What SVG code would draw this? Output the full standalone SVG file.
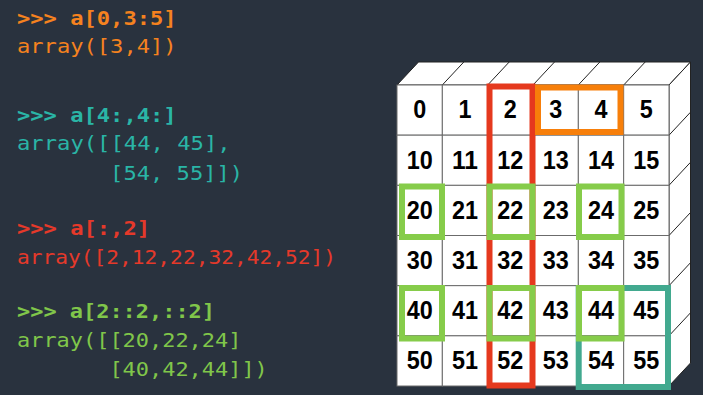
<svg xmlns="http://www.w3.org/2000/svg" width="703" height="395" viewBox="0 0 703 395">
<style>
.code{font-family:"DejaVu Sans Mono","Liberation Mono",monospace;font-size:20px}
.b{font-weight:bold}
.or{fill:#f5821f}.te{fill:#2ab5a6}.rd{fill:#e5392a}.gr{fill:#80c64a}
.cell rect{fill:#fff;stroke:#6b6b6b;stroke-width:1}
.cell text{font-family:"Liberation Sans",Arial,sans-serif;font-weight:bold;font-size:26px;fill:#000;text-anchor:middle}
.face{fill:#fff;stroke:#222;stroke-width:1}
.edge{stroke:#222;stroke-width:1;fill:none}
.hl{fill:none;stroke-width:6}
</style>
<rect width="703" height="395" fill="#29323e"/>
<g id="code">
<text class="code b or" x="17" y="25" textLength="159.6" lengthAdjust="spacingAndGlyphs">&gt;&gt;&gt; a[0,3:5]</text>
<text class="code or" x="17" y="53" textLength="159.6" lengthAdjust="spacingAndGlyphs">array([3,4])</text>
<text class="code b te" x="17" y="121.5" textLength="159.6" lengthAdjust="spacingAndGlyphs">&gt;&gt;&gt; a[4:,4:]</text>
<text class="code te" x="17" y="150" textLength="213.6" lengthAdjust="spacingAndGlyphs" xml:space="preserve">array([[44, 45],</text>
<text class="code te" x="110.1" y="179.5" textLength="133" lengthAdjust="spacingAndGlyphs" xml:space="preserve">[54, 55]])</text>
<text class="code b rd" x="17" y="235" textLength="133" lengthAdjust="spacingAndGlyphs">&gt;&gt;&gt; a[:,2]</text>
<text class="code rd" x="17" y="263.5" textLength="319" lengthAdjust="spacingAndGlyphs">array([2,12,22,32,42,52])</text>
<text class="code b gr" x="17" y="318" textLength="198" lengthAdjust="spacingAndGlyphs">&gt;&gt;&gt; a[2::2,::2]</text>
<text class="code gr" x="17" y="346.5" textLength="224.4" lengthAdjust="spacingAndGlyphs">array([[20,22,24]</text>
<text class="code gr" x="109.4" y="376" textLength="158.4" lengthAdjust="spacingAndGlyphs">[40,42,44]])</text>
</g>
<g id="box3d">
<polygon class="face" points="397,85 669,85 690.5,62 418.5,62"/>
<polygon class="face" points="669,85 690.5,62 690.5,363 669,386"/>
<path class="edge" d="M442.3,85 L463.8,62 M487.7,85 L509.2,62 M533,85 L554.5,62 M578.3,85 L599.8,62 M623.7,85 L645.2,62 M669,135.2 L690.5,112.2 M669,185.3 L690.5,162.3 M669,235.5 L690.5,212.5 M669,285.7 L690.5,262.7 M669,335.8 L690.5,312.8"/>
</g>
<g id="grid">
<g id="c0" class="cell"><rect x="397" y="85" width="45.33" height="50.17"/><text x="419.7" y="118.3" textLength="13" lengthAdjust="spacingAndGlyphs">0</text></g>
<g id="c1" class="cell"><rect x="442.33" y="85" width="45.33" height="50.17"/><text x="465" y="118.3" textLength="13" lengthAdjust="spacingAndGlyphs">1</text></g>
<g id="c2" class="cell"><rect x="487.67" y="85" width="45.33" height="50.17"/><text x="510.3" y="118.3" textLength="13" lengthAdjust="spacingAndGlyphs">2</text></g>
<g id="c3" class="cell"><rect x="533" y="85" width="45.33" height="50.17"/><text x="555.7" y="118.3" textLength="13" lengthAdjust="spacingAndGlyphs">3</text></g>
<g id="c4" class="cell"><rect x="578.33" y="85" width="45.33" height="50.17"/><text x="601" y="118.3" textLength="13" lengthAdjust="spacingAndGlyphs">4</text></g>
<g id="c5" class="cell"><rect x="623.67" y="85" width="45.33" height="50.17"/><text x="646.3" y="118.3" textLength="13" lengthAdjust="spacingAndGlyphs">5</text></g>
<g id="c10" class="cell"><rect x="397" y="135.17" width="45.33" height="50.17"/><text x="419.7" y="168.5" textLength="26" lengthAdjust="spacingAndGlyphs">10</text></g>
<g id="c11" class="cell"><rect x="442.33" y="135.17" width="45.33" height="50.17"/><text x="465" y="168.5" textLength="26" lengthAdjust="spacingAndGlyphs">11</text></g>
<g id="c12" class="cell"><rect x="487.67" y="135.17" width="45.33" height="50.17"/><text x="510.3" y="168.5" textLength="26" lengthAdjust="spacingAndGlyphs">12</text></g>
<g id="c13" class="cell"><rect x="533" y="135.17" width="45.33" height="50.17"/><text x="555.7" y="168.5" textLength="26" lengthAdjust="spacingAndGlyphs">13</text></g>
<g id="c14" class="cell"><rect x="578.33" y="135.17" width="45.33" height="50.17"/><text x="601" y="168.5" textLength="26" lengthAdjust="spacingAndGlyphs">14</text></g>
<g id="c15" class="cell"><rect x="623.67" y="135.17" width="45.33" height="50.17"/><text x="646.3" y="168.5" textLength="26" lengthAdjust="spacingAndGlyphs">15</text></g>
<g id="c20" class="cell"><rect x="397" y="185.33" width="45.33" height="50.17"/><text x="419.7" y="218.6" textLength="26" lengthAdjust="spacingAndGlyphs">20</text></g>
<g id="c21" class="cell"><rect x="442.33" y="185.33" width="45.33" height="50.17"/><text x="465" y="218.6" textLength="26" lengthAdjust="spacingAndGlyphs">21</text></g>
<g id="c22" class="cell"><rect x="487.67" y="185.33" width="45.33" height="50.17"/><text x="510.3" y="218.6" textLength="26" lengthAdjust="spacingAndGlyphs">22</text></g>
<g id="c23" class="cell"><rect x="533" y="185.33" width="45.33" height="50.17"/><text x="555.7" y="218.6" textLength="26" lengthAdjust="spacingAndGlyphs">23</text></g>
<g id="c24" class="cell"><rect x="578.33" y="185.33" width="45.33" height="50.17"/><text x="601" y="218.6" textLength="26" lengthAdjust="spacingAndGlyphs">24</text></g>
<g id="c25" class="cell"><rect x="623.67" y="185.33" width="45.33" height="50.17"/><text x="646.3" y="218.6" textLength="26" lengthAdjust="spacingAndGlyphs">25</text></g>
<g id="c30" class="cell"><rect x="397" y="235.5" width="45.33" height="50.17"/><text x="419.7" y="268.8" textLength="26" lengthAdjust="spacingAndGlyphs">30</text></g>
<g id="c31" class="cell"><rect x="442.33" y="235.5" width="45.33" height="50.17"/><text x="465" y="268.8" textLength="26" lengthAdjust="spacingAndGlyphs">31</text></g>
<g id="c32" class="cell"><rect x="487.67" y="235.5" width="45.33" height="50.17"/><text x="510.3" y="268.8" textLength="26" lengthAdjust="spacingAndGlyphs">32</text></g>
<g id="c33" class="cell"><rect x="533" y="235.5" width="45.33" height="50.17"/><text x="555.7" y="268.8" textLength="26" lengthAdjust="spacingAndGlyphs">33</text></g>
<g id="c34" class="cell"><rect x="578.33" y="235.5" width="45.33" height="50.17"/><text x="601" y="268.8" textLength="26" lengthAdjust="spacingAndGlyphs">34</text></g>
<g id="c35" class="cell"><rect x="623.67" y="235.5" width="45.33" height="50.17"/><text x="646.3" y="268.8" textLength="26" lengthAdjust="spacingAndGlyphs">35</text></g>
<g id="c40" class="cell"><rect x="397" y="285.67" width="45.33" height="50.17"/><text x="419.7" y="319" textLength="26" lengthAdjust="spacingAndGlyphs">40</text></g>
<g id="c41" class="cell"><rect x="442.33" y="285.67" width="45.33" height="50.17"/><text x="465" y="319" textLength="26" lengthAdjust="spacingAndGlyphs">41</text></g>
<g id="c42" class="cell"><rect x="487.67" y="285.67" width="45.33" height="50.17"/><text x="510.3" y="319" textLength="26" lengthAdjust="spacingAndGlyphs">42</text></g>
<g id="c43" class="cell"><rect x="533" y="285.67" width="45.33" height="50.17"/><text x="555.7" y="319" textLength="26" lengthAdjust="spacingAndGlyphs">43</text></g>
<g id="c44" class="cell"><rect x="578.33" y="285.67" width="45.33" height="50.17"/><text x="601" y="319" textLength="26" lengthAdjust="spacingAndGlyphs">44</text></g>
<g id="c45" class="cell"><rect x="623.67" y="285.67" width="45.33" height="50.17"/><text x="646.3" y="319" textLength="26" lengthAdjust="spacingAndGlyphs">45</text></g>
<g id="c50" class="cell"><rect x="397" y="335.83" width="45.33" height="50.17"/><text x="419.7" y="369.1" textLength="26" lengthAdjust="spacingAndGlyphs">50</text></g>
<g id="c51" class="cell"><rect x="442.33" y="335.83" width="45.33" height="50.17"/><text x="465" y="369.1" textLength="26" lengthAdjust="spacingAndGlyphs">51</text></g>
<g id="c52" class="cell"><rect x="487.67" y="335.83" width="45.33" height="50.17"/><text x="510.3" y="369.1" textLength="26" lengthAdjust="spacingAndGlyphs">52</text></g>
<g id="c53" class="cell"><rect x="533" y="335.83" width="45.33" height="50.17"/><text x="555.7" y="369.1" textLength="26" lengthAdjust="spacingAndGlyphs">53</text></g>
<g id="c54" class="cell"><rect x="578.33" y="335.83" width="45.33" height="50.17"/><text x="601" y="369.1" textLength="26" lengthAdjust="spacingAndGlyphs">54</text></g>
<g id="c55" class="cell"><rect x="623.67" y="335.83" width="45.33" height="50.17"/><text x="646.3" y="369.1" textLength="26" lengthAdjust="spacingAndGlyphs">55</text></g>
</g>
<g id="highlights">
<rect id="hl-col2" class="hl" stroke="#e5391e" x="489.5" y="86.5" width="43" height="299"/>
<rect id="hl-row0" class="hl" stroke="#f77f0a" x="538" y="87.5" width="82.5" height="44.5"/>
<rect id="hl-corner" class="hl" stroke="#42a98f" x="578.7" y="288" width="89.3" height="99"/>
<rect id="hl-20" class="hl" stroke="#86cc4a" x="402" y="186.5" width="40" height="50.5"/>
<rect id="hl-22" class="hl" stroke="#86cc4a" x="489.5" y="186.5" width="43" height="50.5"/>
<rect id="hl-24" class="hl" stroke="#86cc4a" x="579" y="186.5" width="42.5" height="50.5"/>
<rect id="hl-40" class="hl" stroke="#86cc4a" x="402" y="288" width="40" height="50.5"/>
<rect id="hl-42" class="hl" stroke="#86cc4a" x="489.5" y="288" width="43" height="50.5"/>
<rect id="hl-44" class="hl" stroke="#86cc4a" x="579" y="288" width="42.5" height="50.5"/>
</g>
</svg>
